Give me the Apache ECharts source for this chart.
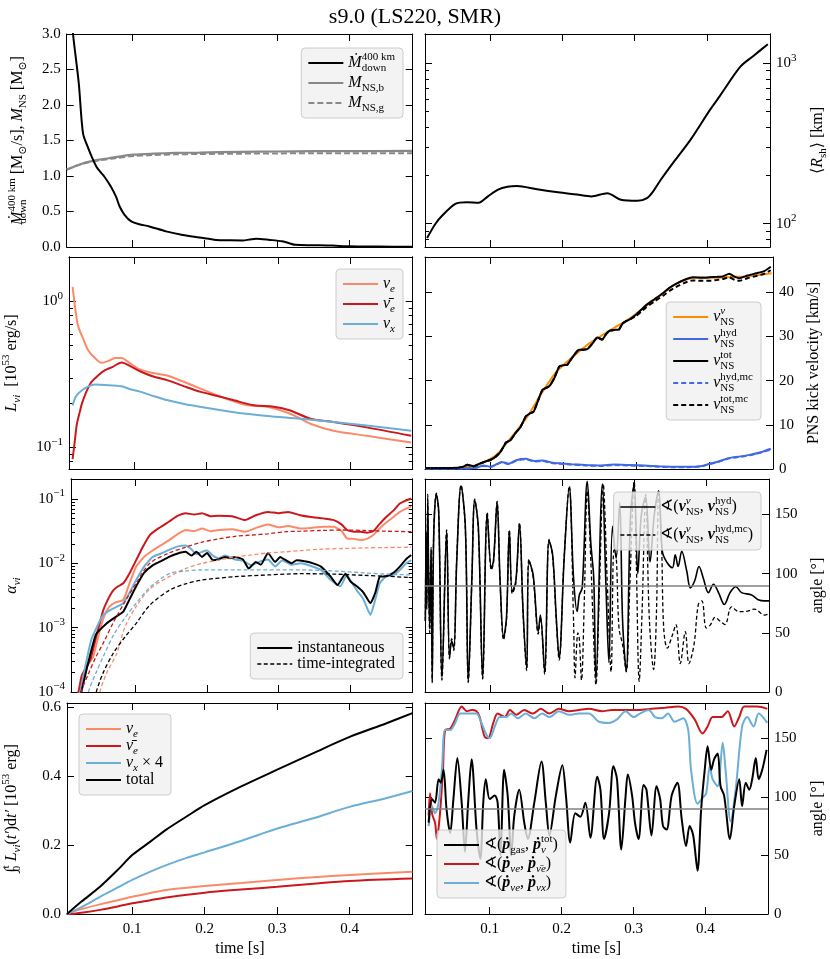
<!DOCTYPE html>
<html><head><meta charset="utf-8">
<script src="https://cdn.jsdelivr.net/npm/echarts@6/dist/echarts.min.js"></script>
<style>html,body{margin:0;padding:0;background:#fff}#c{width:830px;height:959px}</style>
</head><body><div id="c"></div>
<script>
// ---------------- DATA ----------------
const xTicks = [0.1, 0.2, 0.3, 0.4];
// Panel 1: mass accretion rate and NS masses
const tMdot = [0.0165,0.0187,0.0266,0.0325,0.039,0.045,0.051,0.057,0.062,0.071,0.078,0.083,0.090,0.099,0.110,0.124,0.147,0.170,0.193,0.216,0.235,0.253,0.262,0.271,0.290,0.307,0.318,0.325,0.350,0.376,0.399,0.440,0.486];
const mdot = [3.30,3.00,2.31,1.60,1.41,1.26,1.13,1.05,0.99,0.85,0.71,0.57,0.45,0.36,0.32,0.29,0.22,0.17,0.135,0.10,0.095,0.093,0.105,0.117,0.10,0.08,0.05,0.03,0.025,0.02,0.01,0.006,0.003];
const tMns = [0.010,0.020,0.030,0.043,0.055,0.068,0.080,0.1015,0.130,0.160,0.193,0.250,0.300,0.350,0.400,0.486];
const mnsB = [1.09,1.13,1.17,1.205,1.23,1.25,1.27,1.30,1.315,1.325,1.33,1.34,1.345,1.35,1.35,1.355];
const mnsG = [1.09,1.13,1.165,1.20,1.22,1.24,1.255,1.28,1.295,1.305,1.31,1.315,1.318,1.32,1.32,1.32];
// Panel 2: shock radius
const tRsh = [0.0129,0.0245,0.0336,0.052,0.068,0.084,0.097,0.111,0.124,0.137,0.165,0.194,0.22,0.240,0.262,0.281,0.304,0.317,0.325,0.336,0.354,0.377,0.404,0.418,0.446,0.464,0.484];
const rsh = [81.5,100,112,133,136,135,148,163,170,172,164,157,152,148,155,141,139,144.5,158,188,243,333,512,628,952,1110,1313];
// Panel 3: luminosities
const tLe = [0.015,0.020,0.023,0.030,0.037,0.046,0.055,0.064,0.074,0.083,0.092,0.106,0.125,0.147,0.175,0.216,0.258,0.285,0.317,0.345,0.377,0.423,0.485];
const lumE = [1.26,0.80,0.67,0.55,0.46,0.41,0.38,0.39,0.41,0.41,0.385,0.347,0.325,0.31,0.274,0.227,0.194,0.19,0.17,0.145,0.13,0.12,0.108];
const tLeb = [0.015,0.018,0.021,0.025,0.028,0.034,0.041,0.050,0.060,0.070,0.083,0.095,0.110,0.128,0.147,0.170,0.193,0.216,0.239,0.267,0.294,0.317,0.345,0.377,0.423,0.485];
const lumEb = [0.083,0.11,0.145,0.175,0.20,0.24,0.28,0.31,0.338,0.355,0.382,0.36,0.33,0.305,0.288,0.262,0.24,0.225,0.21,0.194,0.19,0.179,0.157,0.149,0.137,0.12];
const tLx = [0.015,0.020,0.028,0.037,0.046,0.060,0.083,0.095,0.110,0.128,0.147,0.170,0.193,0.239,0.285,0.331,0.377,0.423,0.485];
const lumX = [0.194,0.225,0.246,0.262,0.27,0.268,0.262,0.25,0.24,0.224,0.21,0.198,0.189,0.174,0.164,0.157,0.149,0.141,0.13];
// Panel 4: kick velocities
const tV = [0.011,0.040,0.056,0.062,0.068,0.077,0.085,0.093,0.100,0.107,0.114,0.121,0.127,0.134,0.141,0.148,0.153,0.159,0.165,0.171,0.180,0.187,0.194,0.200,0.205,0.213,0.221,0.227,0.233,0.240,0.246,0.253,0.258,0.263,0.270,0.276,0.281,0.285,0.292,0.299,0.306,0.313,0.325,0.336,0.345,0.354,0.365,0.377,0.390,0.400,0.410,0.418,0.427,0.435,0.441,0.452,0.464,0.475,0.484];
const vTot = [0.2,0.2,0.3,0.5,0.95,0.6,1.2,1.7,2.1,2.8,4.0,6.0,6.5,8.1,9.5,11.9,12.5,13.0,15.5,17.9,18.7,20.5,23.2,23.5,23.6,25.5,27.0,27.0,27.2,28.5,29.8,29.3,30.5,31.3,31.5,31.6,33.0,33.4,34.0,34.9,36.0,37.1,38.5,39.8,41.0,41.9,42.8,43.4,43.3,43.4,43.5,43.6,44.2,43.5,43.2,43.8,44.3,44.8,45.8];
const vTotMc = [0.2,0.2,0.3,0.5,0.95,0.6,1.2,1.7,2.1,2.8,4.0,6.0,6.5,8.1,9.5,11.9,12.5,13.0,15.5,17.9,18.7,20.5,23.2,23.5,23.6,25.5,27.0,27.0,27.2,28.5,29.8,29.3,30.5,31.3,31.5,31.6,33.0,33.4,34.0,34.6,35.6,36.6,38.0,39.2,40.3,41.2,42.1,42.7,42.6,42.6,42.8,43.0,43.4,42.8,42.6,43.2,43.7,44.2,45.0];
const tVnu = [0.011,0.05,0.07,0.085,0.1,0.11,0.12,0.135,0.15,0.17,0.19,0.21,0.23,0.25,0.27,0.29,0.31,0.33,0.35,0.37,0.39,0.41,0.43,0.45,0.47,0.485];
const vNu = [0.2,0.2,0.5,1.2,2.3,3.5,5.5,8.5,11.8,17.2,22.0,25.0,27.8,30.0,32.0,34.0,36.5,39.0,41.5,43.0,43.4,43.3,43.5,43.6,44.0,44.3];
const tVh = [0.011,0.06,0.08,0.09,0.1,0.107,0.115,0.125,0.135,0.148,0.16,0.171,0.185,0.194,0.21,0.23,0.25,0.27,0.29,0.31,0.33,0.35,0.37,0.39,0.4,0.41,0.427,0.44,0.455,0.47,0.484];
const vHyd = [0.1,0.1,0.3,0.8,0.5,1.0,1.6,1.2,2.0,2.3,1.8,1.9,1.4,1.3,1.1,0.9,0.8,1.0,0.9,0.8,0.6,0.5,0.5,0.7,1.2,1.6,2.5,2.8,3.2,3.8,4.6];
const vHydMc = [0.1,0.1,0.3,0.7,0.5,0.9,1.5,1.1,1.9,2.2,1.7,1.8,1.3,1.2,1.0,0.8,0.7,0.9,0.8,0.7,0.5,0.4,0.4,0.6,1.1,1.5,2.4,2.7,3.1,3.7,4.4];
// Panel 5: anisotropy parameters (instantaneous)
const tAEb = [0.019,0.021,0.025,0.037,0.046,0.055,0.062,0.069,0.076,0.083,0.092,0.101,0.110,0.120,0.133,0.147,0.158,0.170,0.182,0.193,0.205,0.216,0.235,0.253,0.268,0.285,0.300,0.313,0.330,0.345,0.362,0.377,0.388,0.395,0.405,0.414,0.423,0.432,0.440,0.450,0.460,0.469,0.478,0.485];
const aEb = [8.9e-5,1.07e-4,1.8e-4,3.2e-4,7.9e-4,1.86e-3,2.8e-3,3.8e-3,4.4e-3,4.9e-3,7.1e-3,1.12e-2,1.78e-2,2.75e-2,3.55e-2,4.47e-2,5.4e-2,6.0e-2,5.75e-2,6.0e-2,5.4e-2,5.5e-2,5.4e-2,4.7e-2,5.6e-2,6.3e-2,6.0e-2,6.3e-2,5.6e-2,5.25e-2,5.0e-2,4.7e-2,4.0e-2,3.3e-2,3.1e-2,3.1e-2,3.0e-2,3.16e-2,4.0e-2,5.25e-2,6.6e-2,8.5e-2,9.5e-2,0.102];
const tAE = [0.020,0.022,0.030,0.041,0.050,0.057,0.064,0.073,0.083,0.092,0.101,0.112,0.124,0.135,0.147,0.158,0.170,0.182,0.193,0.205,0.216,0.235,0.253,0.268,0.285,0.300,0.313,0.331,0.345,0.362,0.377,0.388,0.395,0.405,0.414,0.423,0.432,0.440,0.450,0.460,0.469,0.478,0.485];
const aE = [7.9e-5,1.07e-4,2.24e-4,3.55e-4,8.9e-4,1.58e-3,2.14e-3,2.5e-3,2.7e-3,5.0e-3,8.9e-3,1.26e-2,1.58e-2,1.9e-2,2.3e-2,2.8e-2,3.3e-2,3.16e-2,3.47e-2,3.16e-2,3.3e-2,3.4e-2,3.1e-2,3.55e-2,4.0e-2,3.63e-2,3.8e-2,3.47e-2,3.55e-2,3.7e-2,3.7e-2,3.16e-2,2.45e-2,2.4e-2,2.3e-2,2.4e-2,2.75e-2,3.4e-2,4.3e-2,5.25e-2,6.3e-2,7.1e-2,7.6e-2];
const tAX = [0.022,0.0235,0.030,0.038,0.046,0.055,0.064,0.073,0.083,0.092,0.101,0.112,0.124,0.135,0.147,0.158,0.170,0.178,0.185,0.193,0.200,0.208,0.216,0.225,0.239,0.250,0.262,0.272,0.285,0.295,0.305,0.318,0.331,0.345,0.359,0.372,0.386,0.395,0.402,0.409,0.418,0.428,0.435,0.441,0.450,0.460,0.469,0.478,0.485];
const aX = [7.9e-5,1.07e-4,2.5e-4,6.3e-4,1.02e-3,1.58e-3,1.86e-3,2.09e-3,2.4e-3,3.55e-3,5.5e-3,8.9e-3,1.26e-2,1.41e-2,1.62e-2,1.82e-2,1.9e-2,1.66e-2,1.38e-2,1.51e-2,1.58e-2,1.32e-2,1.2e-2,1.32e-2,1.15e-2,1.1e-2,9.3e-3,1.05e-2,1.15e-2,8.9e-3,1.12e-2,9.5e-3,1.0e-2,9.1e-3,7.9e-3,5.6e-3,4.4e-3,6.6e-3,5.0e-3,3.8e-3,2.8e-3,1.58e-3,2.8e-3,4.9e-3,6.3e-3,6.6e-3,7.9e-3,1.0e-2,1.12e-2];
const tAT = [0.023,0.025,0.035,0.045,0.060,0.070,0.083,0.092,0.101,0.112,0.124,0.135,0.147,0.158,0.170,0.178,0.185,0.193,0.200,0.208,0.216,0.225,0.232,0.239,0.250,0.258,0.268,0.275,0.285,0.295,0.302,0.308,0.318,0.325,0.338,0.348,0.359,0.372,0.382,0.393,0.400,0.409,0.418,0.428,0.435,0.441,0.450,0.460,0.469,0.478,0.485];
const aT = [7.9e-5,1.07e-4,3.16e-4,7.9e-4,1.17e-3,1.41e-3,1.78e-3,2.8e-3,4.4e-3,7.1e-3,9.3e-3,1.07e-2,1.26e-2,1.41e-2,1.51e-2,1.32e-2,1.51e-2,1.26e-2,1.45e-2,1.12e-2,1.15e-2,1.26e-2,1.2e-2,1.26e-2,1.15e-2,8.3e-3,1.05e-2,9.5e-3,1.45e-2,1.05e-2,1.26e-2,1.15e-2,1.0e-2,1.12e-2,1.07e-2,1.0e-2,8.9e-3,6.3e-3,4.6e-3,6.9e-3,5.25e-3,4.4e-3,3.55e-3,2.4e-3,3.55e-3,6.2e-3,6.3e-3,7.1e-3,8.9e-3,1.17e-2,1.35e-2];
// Panel 5: time-integrated
const tAEbI = [0.023,0.025,0.035,0.045,0.055,0.070,0.085,0.101,0.120,0.147,0.170,0.193,0.216,0.239,0.262,0.285,0.310,0.331,0.360,0.390,0.420,0.450,0.485];
const aEbI = [7.9e-5,1.07e-4,2.0e-4,3.55e-4,5.75e-4,1.26e-3,2.5e-3,4.9e-3,1.0e-2,1.45e-2,1.78e-2,2.14e-2,2.4e-2,2.63e-2,2.75e-2,2.88e-2,3.1e-2,3.16e-2,3.24e-2,3.3e-2,3.24e-2,3.16e-2,3.1e-2];
const tAEI = [0.049,0.051,0.060,0.074,0.085,0.101,0.120,0.147,0.170,0.193,0.216,0.239,0.262,0.285,0.310,0.331,0.360,0.390,0.420,0.450,0.485];
const aEI = [7.9e-5,1.07e-4,2.0e-4,4.0e-4,1.0e-3,2.14e-3,4.0e-3,6.2e-3,8.3e-3,1.0e-2,1.12e-2,1.26e-2,1.35e-2,1.45e-2,1.51e-2,1.58e-2,1.66e-2,1.7e-2,1.74e-2,1.76e-2,1.78e-2];
const tAXI = [0.033,0.035,0.045,0.055,0.070,0.085,0.101,0.120,0.147,0.170,0.193,0.239,0.285,0.331,0.377,0.420,0.450,0.485];
const aXI = [7.9e-5,1.07e-4,2.0e-4,3.55e-4,7.9e-4,1.41e-3,2.4e-3,4.2e-3,6.9e-3,7.6e-3,7.9e-3,7.9e-3,7.9e-3,7.9e-3,7.6e-3,7.1e-3,6.8e-3,6.6e-3];
const tATI = [0.044,0.046,0.055,0.069,0.085,0.101,0.120,0.147,0.170,0.193,0.239,0.285,0.331,0.377,0.420,0.450,0.485];
const aTI = [7.9e-5,1.07e-4,2.0e-4,4.0e-4,7.1e-4,1.17e-3,2.24e-3,3.8e-3,4.8e-3,5.5e-3,6.2e-3,6.6e-3,6.9e-3,6.8e-3,6.5e-3,6.3e-3,6.0e-3];
// Panel 6: angle between kick vectors
const tA1 = [0.0105,0.0115,0.0125,0.0138,0.0150,0.0165,0.0185,0.0200,0.0220,0.0257,0.0290,0.0335,0.0400,0.0440,0.0470,0.0500,0.0540,0.0600,0.0660,0.0700,0.0750,0.0790,0.0840,0.0900,0.0963,0.1020,0.1050,0.1100,0.1140,0.1190,0.1230,0.1270,0.1310,0.1360,0.1410,0.1460,0.1510,0.1540,0.1600,0.1670,0.1700,0.1760,0.1820,0.1870,0.1920,0.1960,0.2030,0.2100,0.2160,0.2210,0.2240,0.2280,0.2350,0.2400,0.2440,0.2470,0.2560,0.2610,0.2650,0.2700,0.2750,0.2800,0.2840,0.2890,0.2950,0.3000,0.3050,0.3100,0.3160,0.3220,0.3280,0.3340,0.3390,0.3450,0.3530,0.3570,0.3610,0.3660,0.3730,0.3780,0.3840,0.3900,0.3960,0.4030,0.4100,0.4170,0.4250,0.4330,0.4410,0.4490,0.4630,0.4720,0.4810,0.4870];
const ang1 = [60,130,75,160,100,54,120,9,130,167,153,12,136,29,43,37,111,174,139,9,96,162,139,12,150,105,111,160,96,46,63,136,85,94,142,68,20,111,99,51,65,17,128,116,63,29,113,173,96,68,82,88,178,125,96,10,176,88,25,140,113,160,60,18,150,175,100,150,165,110,150,170,119,110,105,116,106,119,102,88,94,106,96,84,91,84,74,84,89,84,82,78,77,77];
const tA2 = [0.0105,0.0115,0.0125,0.0138,0.0150,0.0165,0.0185,0.0200,0.0220,0.0257,0.0290,0.0335,0.0400,0.0440,0.0470,0.0500,0.0540,0.0600,0.0660,0.0700,0.0750,0.0790,0.0840,0.0900,0.0963,0.1020,0.1050,0.1100,0.1140,0.1190,0.1230,0.1270,0.1310,0.1360,0.1410,0.1460,0.1510,0.1540,0.1600,0.1670,0.1700,0.1760,0.1820,0.1870,0.1920,0.1960,0.2030,0.2100,0.2160,0.2180,0.2220,0.2240,0.2270,0.2310,0.2350,0.2400,0.2430,0.2470,0.2520,0.2570,0.2630,0.2680,0.2720,0.2750,0.2790,0.2840,0.2890,0.2940,0.3000,0.3030,0.3070,0.3110,0.3160,0.3210,0.3270,0.3310,0.3340,0.3380,0.3410,0.3460,0.3530,0.3580,0.3640,0.3710,0.3760,0.3830,0.3890,0.3940,0.4000,0.4060,0.4120,0.4190,0.4260,0.4350,0.4450,0.4540,0.4670,0.4810,0.4870];
const ang2 = [60,135,70,167,100,50,122,8,132,168,150,10,137,28,45,35,112,175,137,8,94,163,137,11,152,103,109,161,94,44,61,137,83,92,143,66,18,112,97,49,63,15,129,114,61,27,115,174,60,12,50,45,10,80,170,110,60,6,90,176,88,17,120,116,54,40,17,90,178,110,9,68,167,63,19,68,170,125,54,37,48,57,24,51,24,40,74,77,54,57,63,60,57,72,68,68,70,65,66];
// Panel 7: time-integrated luminosities
const tEtot = [0.01,0.03,0.0555,0.08,0.1,0.125,0.147,0.175,0.2,0.249,0.3,0.35,0.4,0.45,0.4866];
const eTot = [0,0.036,0.079,0.128,0.171,0.21,0.245,0.283,0.316,0.369,0.419,0.467,0.514,0.553,0.583];
const tEx = [0.01,0.03,0.0555,0.08,0.1,0.125,0.147,0.175,0.2,0.25,0.3,0.35,0.4,0.45,0.4866];
const eX4 = [0,0.02,0.05,0.077,0.099,0.123,0.142,0.163,0.179,0.212,0.248,0.278,0.311,0.336,0.357];
const tEe = [0.01,0.02,0.035,0.0555,0.08,0.1,0.125,0.147,0.2,0.25,0.3,0.35,0.4,0.4866];
const eE = [0,0.008,0.017,0.028,0.04,0.05,0.061,0.07,0.081,0.09,0.099,0.107,0.113,0.123];
const eEb = [0,0.001,0.005,0.012,0.022,0.031,0.04,0.048,0.062,0.071,0.079,0.088,0.096,0.103];
// Panel 8: angles between momentum rates
const tPG = [0.0151,0.0197,0.024,0.0289,0.032,0.0358,0.040,0.045,0.0495,0.055,0.061,0.0656,0.070,0.0748,0.0817,0.087,0.091,0.0945,0.1,0.107,0.111,0.115,0.12,0.125,0.13,0.134,0.141,0.148,0.153,0.162,0.172,0.178,0.183,0.192,0.201,0.206,0.212,0.219,0.226,0.233,0.24,0.2495,0.254,0.259,0.266,0.272,0.277,0.283,0.289,0.292,0.298,0.302,0.307,0.314,0.318,0.325,0.332,0.337,0.341,0.346,0.353,0.361,0.367,0.373,0.378,0.383,0.389,0.394,0.399,0.403,0.408,0.412,0.417,0.421,0.426,0.434,0.44,0.447,0.451,0.456,0.461,0.465,0.47,0.474,0.479,0.485];
const pGas = [78,98,95,115,112,123,89,69,98,133,95,53,95,132,72,47,95,115,98,101,95,50,123,101,50,83,106,78,64,95,130,95,67,101,127,101,61,86,83,95,65,117,106,64,86,126,115,55,101,119,101,78,64,110,106,67,109,98,75,72,101,112,81,58,75,67,37,89,123,143,123,132,137,109,101,64,92,115,92,112,106,115,133,115,123,140];
const tPE = [0.0151,0.017,0.02,0.024,0.0266,0.03,0.032,0.035,0.038,0.045,0.052,0.061,0.068,0.075,0.0817,0.086,0.093,0.0977,0.105,0.111,0.121,0.128,0.137,0.148,0.16,0.171,0.183,0.196,0.21,0.224,0.238,0.256,0.27,0.289,0.307,0.325,0.344,0.362,0.373,0.385,0.396,0.403,0.41,0.422,0.431,0.44,0.447,0.454,0.472,0.486];
const pEEb = [84,103,85,78,64,80,95,123,157,158,166,177,173,174,173,168,151,150,163,171,168,174,170,174,171,175,171,175,173,174,175,173,174,174,174,175,176,177,175,166,154,160,168,168,173,160,168,177,177,175];
const tPX = [0.0151,0.0197,0.024,0.0289,0.0335,0.038,0.045,0.052,0.0587,0.066,0.075,0.0817,0.0885,0.0954,0.1,0.107,0.114,0.123,0.13,0.139,0.15,0.162,0.173,0.183,0.196,0.21,0.224,0.238,0.252,0.266,0.277,0.289,0.3,0.309,0.321,0.33,0.339,0.348,0.357,0.369,0.376,0.38,0.389,0.396,0.401,0.406,0.41,0.417,0.424,0.428,0.435,0.442,0.451,0.458,0.467,0.474,0.486];
const pEX = [75,92,86,95,123,157,157,163,171,171,171,171,163,153,150,160,168,168,171,167,171,167,171,168,173,170,171,171,164,163,166,173,168,171,174,168,167,171,164,167,157,123,94,99,103,126,115,109,146,123,79,106,160,168,160,171,163];

// ---------------- STYLE / LAYOUT ----------------
const F = '"Liberation Serif", "DejaVu Serif", serif';
const C_E = '#fb8a6a', C_EB = '#cb181d', C_X = '#6baed6', C_G = '#888888';
const XMIN = 0.01, XMAX = 0.487;
const zip = (t, v) => t.slice(0, Math.min(t.length, v.length)).map((x, i) => [x, v[i]]);

function rich(fs) {
  const lh = Math.round(fs * 1.35), s = Math.round(fs * 0.68), h = Math.round(lh / 2);
  const b = {fontFamily: F, color: '#000'};
  const sub = Object.assign({}, b, {fontSize: s, lineHeight: h, verticalAlign: 'bottom'});
  const sup = Object.assign({}, b, {fontSize: s, lineHeight: h, verticalAlign: 'top'});
  return {
    n: Object.assign({}, b, {fontSize: fs, lineHeight: lh}),
    it: Object.assign({}, b, {fontSize: fs, lineHeight: lh, fontStyle: 'italic'}),
    bi: Object.assign({}, b, {fontSize: fs, lineHeight: lh, fontStyle: 'italic', fontWeight: 'bold'}),
    sb: sub,
    sbi: Object.assign({}, sub, {fontStyle: 'italic'}),
    sb0: Object.assign({}, sub, {width: 0.01}),
    sb0i: Object.assign({}, sub, {width: 0.01, fontStyle: 'italic'}),
    sp: sup,
    spi: Object.assign({}, sup, {fontStyle: 'italic'}),
    sp0: Object.assign({}, sup, {width: 0.01}),
    sp0i: Object.assign({}, sup, {width: 0.01, fontStyle: 'italic'})
  };
}
const RL = rich(16), RN = rich(16);
const RT = {sp: {fontFamily: F, fontSize: 11, lineHeight: 10, verticalAlign: 'top', color: '#000'}};

const grids = [
  {left: 66.7, top: 34, width: 346, height: 213},
  {left: 425, top: 34, width: 348, height: 213},
  {left: 66.7, top: 257, width: 346, height: 212},
  {left: 425, top: 257, width: 348, height: 212},
  {left: 66.7, top: 479, width: 346, height: 213},
  {left: 425, top: 479, width: 348, height: 213},
  {left: 66.7, top: 703, width: 346, height: 211},
  {left: 425, top: 703, width: 348, height: 211}
];

const xAxes = [], yAxes = [], XI = [];
const axLine = {show: true, onZero: false, lineStyle: {color: '#000', width: 1}};
grids.forEach((g, gi) => {
  const bottomRow = gi >= 6;
  const common = {type: 'value', gridIndex: gi, min: XMIN, max: XMAX, splitLine: {show: false}, axisLine: axLine,
    axisTick: {show: true, inside: true, length: 7, customValues: xTicks, lineStyle: {color: '#000', width: 1}}};
  XI.push(xAxes.length);
  xAxes.push(Object.assign({}, common, {position: 'bottom',
    axisLabel: {show: bottomRow, customValues: xTicks, formatter: v => v.toFixed(1), margin: 8, fontFamily: F, fontSize: 15, color: '#000'},
    name: bottomRow ? 'time [s]' : '', nameLocation: 'middle', nameGap: 27,
    nameTextStyle: {fontFamily: F, fontSize: 16, color: '#000'}}));
  xAxes.push(Object.assign({}, common, {position: 'top', axisLabel: {show: false}}));
});

function logFmt(v) {
  const l = Math.log10(v), e = Math.round(l);
  if (Math.abs(l - e) > 1e-3) return '';
  return '10{sp|' + (e < 0 ? '\u2212' + (-e) : e) + '}';
}
function addY(gi, side, cfg) {
  const other = side === 'left' ? 'right' : 'left';
  const mk = (pos, labels, ticks, len) => ({
    type: cfg.type, logBase: 10, gridIndex: gi, min: cfg.min, max: cfg.max, position: pos,
    splitLine: {show: false}, axisLine: axLine,
    axisTick: {show: true, inside: true, length: len, customValues: ticks, lineStyle: {color: '#000', width: 1}},
    axisLabel: labels ? {show: true, customValues: ticks, formatter: cfg.fmt, margin: 6, fontFamily: F, fontSize: 15,
      color: '#000', lineHeight: 22, rich: RT} : {show: false},
    name: labels ? cfg.name : '', nameLocation: 'middle', nameGap: cfg.gap, nameRotate: 90,
    nameTextStyle: {fontFamily: F, fontSize: 16, color: '#000', lineHeight: 22, rich: RN}
  });
  const main = yAxes.length;
  yAxes.push(mk(side, true, cfg.major, 7));
  yAxes.push(mk(other, false, cfg.major, 7));
  if (cfg.minor) { yAxes.push(mk(side, false, cfg.minor, 4)); yAxes.push(mk(other, false, cfg.minor, 4)); }
  return main;
}
const f1 = v => v.toFixed(1), f0 = v => String(v);
const Y = [];
Y[0] = addY(0, 'left', {type: 'value', min: 0, max: 3, major: [0, 0.5, 1, 1.5, 2, 2.5, 3], fmt: f1, gap: 38,
  name: '{it|Ṁ}{sb0|down}{sp|400 km}{n| [M}{sb|⊙}{n|/s], }{it|M}{sb|NS}{n| [M}{sb|⊙}{n|]}'});
Y[1] = addY(1, 'right', {type: 'log', min: 71.6, max: 1521, major: [100, 1000], minor: [80, 90, 200, 300, 400, 500, 600, 700, 800, 900],
  fmt: logFmt, gap: 37, name: '{n|⟨}{it|R}{sb|sh}{n|⟩ [km]}'});
Y[2] = addY(2, 'left', {type: 'log', min: 0.071, max: 2.02, major: [0.1, 1], minor: [0.08, 0.09, 0.2, 0.3, 0.4, 0.5, 0.6, 0.7, 0.8, 0.9, 2],
  fmt: logFmt, gap: 46, name: '{it|L}{sbi|νi}{n|  [10}{sp|53}{n| erg/s]}'});
Y[3] = addY(3, 'right', {type: 'value', min: 0, max: 48, major: [0, 10, 20, 30, 40], fmt: f0, gap: 30,
  name: '{n|PNS kick velocity [km/s]}'});
Y[4] = addY(4, 'left', {type: 'log', min: 1e-4, max: 0.2046, major: [1e-4, 1e-3, 1e-2, 0.1],
  minor: [2e-4, 3e-4, 4e-4, 5e-4, 6e-4, 7e-4, 8e-4, 9e-4, 2e-3, 3e-3, 4e-3, 5e-3, 6e-3, 7e-3, 8e-3, 9e-3, 0.02, 0.03, 0.04, 0.05, 0.06, 0.07, 0.08, 0.09, 0.2],
  fmt: logFmt, gap: 48, name: '{it|α}{sbi|νi}'});
Y[5] = addY(5, 'right', {type: 'value', min: 0, max: 180, major: [0, 50, 100, 150], fmt: f0, gap: 38, name: '{n|angle [°]}'});
Y[6] = addY(6, 'left', {type: 'value', min: 0, max: 0.6125, major: [0, 0.2, 0.4, 0.6], fmt: f1, gap: 44,
  name: '{n|∫}{sb0|0}{sp|t}{n| }{it|L}{sbi|νi}{n|(}{it|t′}{n|)d}{it|t′}{n| [10}{sp|53}{n| erg]}'});
Y[7] = addY(7, 'right', {type: 'value', min: 0, max: 180, major: [0, 50, 100, 150], fmt: f0, gap: 39, name: '{n|angle [°]}'});

function ln(name, g, t, v, color, width, dash, extra) {
  return Object.assign({name, type: 'line', xAxisIndex: XI[g], yAxisIndex: Y[g], data: zip(t, v),
    symbol: 'none', showSymbol: false, smooth: 0.3, color,
    lineStyle: {color, width, type: dash || 'solid'}, animation: false}, extra || {});
}
const D2 = [4, 2.5];
const ref90 = {markLine: {silent: true, symbol: ['none', 'none'], animation: false, label: {show: false},
  lineStyle: {color: '#808080', width: 1.5, type: 'solid'}, data: [{yAxis: 90}]}};

const series = [
  ln('mnsb', 0, tMns, mnsB, C_G, 2.2),
  ln('mnsg', 0, tMns, mnsG, C_G, 2, [6, 3]),
  ln('mdot', 0, tMdot, mdot, '#000', 2),
  ln('rsh', 1, tRsh, rsh, '#000', 2),
  ln('Le', 2, tLe, lumE, C_E, 2),
  ln('Leb', 2, tLeb, lumEb, C_EB, 2),
  ln('Lx', 2, tLx, lumX, C_X, 2),
  ln('vnu', 3, tVnu, vNu, '#ff8c00', 2),
  ln('vhyd', 3, tVh, vHyd, '#4169e1', 2, null, {smooth: 0.15}),
  ln('vtot', 3, tV, vTot, '#000', 2, null, {smooth: 0.15}),
  ln('vhydmc', 3, tVh, vHydMc, '#4169e1', 2, [5, 3], {smooth: 0.15}),
  ln('vtotmc', 3, tV, vTotMc, '#000', 2, [5, 3], {smooth: 0.15}),
  ln('aE', 4, tAE, aE, C_E, 2, null, {smooth: 0.15}),
  ln('aEb', 4, tAEb, aEb, C_EB, 2, null, {smooth: 0.15}),
  ln('aX', 4, tAX, aX, C_X, 2, null, {smooth: 0.15}),
  ln('aT', 4, tAT, aT, '#000', 2, null, {smooth: 0.15}),
  ln('aEI', 4, tAEI, aEI, C_E, 1.3, D2),
  ln('aEbI', 4, tAEbI, aEbI, C_EB, 1.3, D2),
  ln('aXI', 4, tAXI, aXI, C_X, 1.3, D2),
  ln('aTI', 4, tATI, aTI, '#000', 1.3, D2),
  ln('inst', 4, [], [], '#000', 2),
  ln('tint', 4, [], [], '#000', 1.3, D2),
  ln('ang2', 5, tA2, ang2, '#000', 1.3, D2, Object.assign({smooth: 0.35}, ref90)),
  ln('ang1', 5, tA1, ang1, '#000', 1.6, null, {smooth: 0.35}),
  ln('Ee', 6, tEe, eE, C_E, 2),
  ln('Eeb', 6, tEe, eEb, C_EB, 2),
  ln('Ex4', 6, tEx, eX4, C_X, 2),
  ln('Etot', 6, tEtot, eTot, '#000', 2),
  ln('pee', 7, tPE, pEEb, C_EB, 2, null, Object.assign({smooth: 0.3}, ref90)),
  ln('pex', 7, tPX, pEX, C_X, 2, null, {smooth: 0.3}),
  ln('pg', 7, tPG, pGas, '#000', 2, null, {smooth: 0.3})
];

const LBL = {
  mdot: '{it|Ṁ}{sb0|down}{sp|400 km}',
  mnsb: '{it|M}{sb|NS,b}',
  mnsg: '{it|M}{sb|NS,g}',
  Le: '{it|ν}{sbi|e}', Leb: '{it|ν̄}{sbi|e}', Lx: '{it|ν}{sbi|x}',
  vnu: '{it|v}{sp0i|ν}{sb|NS}', vhyd: '{it|v}{sb0|NS}{sp|hyd}', vtot: '{it|v}{sb0|NS}{sp|tot}',
  vhydmc: '{it|v}{sb0|NS}{sp|hyd,mc}', vtotmc: '{it|v}{sb0|NS}{sp|tot,mc}',
  inst: '{n|instantaneous}', tint: '{n|time-integrated}',
  ang1: '{n|∢(}{bi|v}{sp0i|ν}{sb|NS}{n|, }{bi|v}{sb0|NS}{sp|hyd}{n|)}',
  ang2: '{n|∢(}{bi|v}{sp0i|ν}{sb|NS}{n|, }{bi|v}{sb0|NS}{sp|hyd,mc}{n|)}',
  Ee: '{it|ν}{sbi|e}', Eeb: '{it|ν̄}{sbi|e}', Ex4: '{it|ν}{sbi|x}{n| × 4}', Etot: '{n|total}',
  pg: '{n|∢(}{bi|ṗ}{sb|gas}{n|, }{bi|ṗ}{sb0i|ν}{sp|tot}{n|)}',
  pee: '{n|∢(}{bi|ṗ}{sbi|νe}{n|, }{bi|ṗ}{sbi|ν̄e}{n|)}',
  pex: '{n|∢(}{bi|ṗ}{sbi|νe}{n|, }{bi|ṗ}{sbi|νx}{n|)}'
};
function legend(o) {
  return Object.assign({
    orient: 'vertical', selectedMode: false, itemWidth: 35, itemHeight: 10, itemGap: 0,
    padding: [4, 8, 4, 6], backgroundColor: 'rgba(240,240,240,0.8)', borderColor: '#cccccc', borderWidth: 1, borderRadius: 4,
    itemStyle: {opacity: 0}, lineStyle: {width: 'inherit'},
    textStyle: {fontFamily: F, fontSize: 16, color: '#000', lineHeight: 22, rich: RL},
    formatter: n => LBL[n]
  }, o);
}
const legends = [
  legend({right: 427, top: 48, itemGap: -2, data: ['mdot', 'mnsb', 'mnsg']}),
  legend({right: 427, top: 269, itemGap: -2, data: ['Le', 'Leb', 'Lx']}),
  legend({right: 69, top: 302, itemGap: 0, data: ['vnu', 'vhyd', 'vtot', 'vhydmc', 'vtotmc']}),
  legend({right: 427, top: 633, itemGap: -6, data: ['inst', 'tint']}),
  legend({right: 69, top: 492, itemGap: 6, data: ['ang1', 'ang2']}),
  legend({left: 79, top: 714, itemGap: -5, data: ['Ee', 'Eeb', 'Ex4', 'Etot']}),
  legend({left: 437, top: 830, itemGap: -3, data: ['pg', 'pee', 'pex']})
];

const chart = echarts.init(document.getElementById('c'), null, {renderer: 'canvas'});
chart.setOption({
  animation: false,
  backgroundColor: '#fff',
  textStyle: {fontFamily: F},
  title: {text: 's9.0 (LS220, SMR)', left: 'center', top: 1, textStyle: {fontFamily: F, fontSize: 22, fontWeight: 'normal', color: '#000'}},
  grid: grids.map(g => Object.assign({containLabel: false, show: false}, g)),
  xAxis: xAxes,
  yAxis: yAxes,
  legend: legends,
  series: series
});
</script></body></html>
